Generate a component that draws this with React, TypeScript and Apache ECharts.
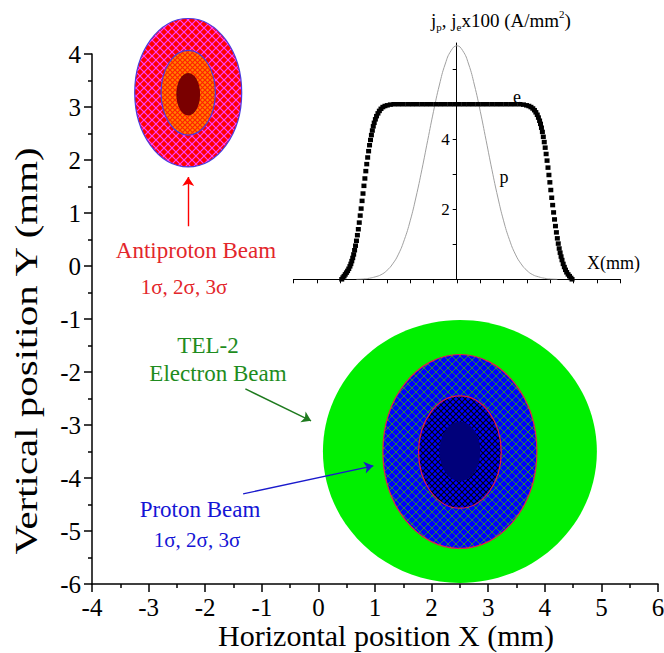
import { useEffect, useRef } from 'react';
import * as echarts from 'echarts';

const FONT = 'Liberation Serif';
const TICK_FONT = 'serif';

// ---- main axes ----
const xMin = -4, xMax = 6;
const yMin = -6, yMax = 4;
const xTickValues = [-4, -3, -2, -1, 0, 1, 2, 3, 4, 5, 6];
const yTickValues = [-6, -5, -4, -3, -2, -1, 0, 1, 2, 3, 4];

// ---- beam ellipses (mm): TEL-2 electron beam, proton 3σ/2σ/1σ, antiproton 3σ/2σ/1σ ----
const beamNames = ['TEL-2 e-beam', 'p 3σ', 'p 2σ', 'p 1σ', 'pbar 3σ', 'pbar 2σ', 'pbar 1σ'];
const beamCx = [2.5, 2.5, 2.5, 2.5, -2.3, -2.3, -2.3];
const beamCy = [-3.5, -3.5, -3.51, -3.5, 3.27, 3.27, 3.24];
const beamRx = [2.42, 1.36, 0.73, 0.36, 0.945, 0.48, 0.21];
const beamRy = [2.48, 1.83, 1.06, 0.56, 1.40, 0.80, 0.40];

// ---- inset: current density profiles ----
const pX = [-4.3, -4, -3.75, -3.5, -3.25, -3, -2.75, -2.5, -2.25, -2, -1.75, -1.5, -1.25, -1, -0.75, -0.5, -0.25, 0,
  0.25, 0.5, 0.75, 1, 1.25, 1.5, 1.75, 2, 2.25, 2.5, 2.75, 3, 3.25, 3.5, 3.75, 4, 4.3];
const pY = [0, 0.01, 0.03, 0.07, 0.13, 0.25, 0.44, 0.72, 1.13, 1.67, 2.35, 3.13, 3.97, 4.8, 5.55, 6.15, 6.53, 6.67,
  6.53, 6.15, 5.55, 4.8, 3.97, 3.13, 2.35, 1.67, 1.13, 0.72, 0.44, 0.25, 0.13, 0.07, 0.03, 0.01, 0];

const eLeft = [
  [-4.93, 0], [-4.88, 0.05], [-4.83, 0.09], [-4.78, 0.14], [-4.73, 0.19], [-4.68, 0.24], [-4.63, 0.3],
  [-4.58, 0.37], [-4.54, 0.44], [-4.5, 0.52], [-4.46, 0.61], [-4.42, 0.71], [-4.38, 0.83], [-4.34, 0.96],
  [-4.3, 1.1], [-4.26, 1.26], [-4.22, 1.43], [-4.18, 1.62], [-4.14, 1.82], [-4.1, 2.02], [-4.06, 2.24],
  [-4.02, 2.45], [-3.98, 2.67], [-3.94, 2.88], [-3.9, 3.09], [-3.86, 3.29], [-3.82, 3.48], [-3.78, 3.66],
  [-3.74, 3.83], [-3.7, 3.98], [-3.66, 4.12], [-3.62, 4.25], [-3.58, 4.37], [-3.54, 4.47], [-3.49, 4.57],
  [-3.44, 4.66], [-3.38, 4.74], [-3.32, 4.81], [-3.25, 4.87], [-3.17, 4.92], [-3.08, 4.95], [-2.98, 4.97],
  [-2.85, 4.99], [-2.7, 5.0],
];
const eTop = [
  [-2.5, 5], [-2.3, 5], [-2.1, 5], [-1.9, 5], [-1.7, 5], [-1.5, 5], [-1.3, 5], [-1.1, 5], [-0.9, 5],
  [-0.7, 5], [-0.5, 5], [-0.3, 5], [-0.1, 5], [0.1, 5], [0.3, 5], [0.5, 5], [0.7, 5], [0.9, 5], [1.1, 5],
  [1.3, 5], [1.5, 5], [1.7, 5], [1.9, 5], [2.1, 5], [2.3, 5], [2.5, 5],
];
const eRight = [
  [2.7, 5.0], [2.85, 4.99], [2.98, 4.97], [3.08, 4.95], [3.17, 4.92], [3.25, 4.88], [3.32, 4.83], [3.38, 4.77],
  [3.44, 4.7], [3.49, 4.62], [3.54, 4.53], [3.58, 4.44], [3.62, 4.33], [3.66, 4.21], [3.7, 4.07], [3.74, 3.92],
  [3.78, 3.76], [3.82, 3.58], [3.86, 3.39], [3.9, 3.19], [3.94, 2.98], [3.98, 2.77], [4.02, 2.55], [4.06, 2.33],
  [4.1, 2.12], [4.14, 1.91], [4.18, 1.71], [4.22, 1.52], [4.26, 1.34], [4.3, 1.17], [4.34, 1.02], [4.38, 0.88],
  [4.42, 0.76], [4.46, 0.65], [4.5, 0.55], [4.55, 0.44], [4.6, 0.35], [4.65, 0.27], [4.7, 0.2], [4.76, 0.14],
  [4.82, 0.09], [4.88, 0.04], [4.93, 0],
];
const insetXMin = -7, insetXMax = 7;
const insetYMax = 6.75;
const insetYTicks = [1, 2, 3, 4, 5, 6];
const insetYLabels = [2, 4];

// ---- annotation arrows (mm) ----
const arrowFrom = [[-2.3, 0.75], [-1.29, -2.32], [-1.33, -4.3]];
const arrowTo = [[-2.3, 1.68], [-0.13, -2.92], [0.97, -3.77]];

function hatch(bg: string, line: string, size: number, lw: number) {
  const c = document.createElement('canvas');
  c.width = size;
  c.height = size;
  const g = c.getContext('2d')!;
  g.fillStyle = bg;
  g.fillRect(0, 0, size, size);
  g.strokeStyle = line;
  g.lineWidth = lw;
  g.beginPath();
  g.moveTo(0, 0);
  g.lineTo(size, size);
  g.moveTo(size, 0);
  g.lineTo(0, size);
  g.stroke();
  return { image: c.toDataURL(), repeat: 'repeat', imageWidth: size, imageHeight: size };
}

export default function App() {
  const ref = useRef<HTMLDivElement>(null);
  useEffect(() => {
    if (!ref.current) return;
    const chart = echarts.init(ref.current, null, { renderer: 'svg' });

    const fills: any[] = [
      '#00f000',
      hatch('#0000ff', '#2a8a3a', 8, 1),
      hatch('#0000ff', '#000010', 6, 1.1),
      '#00007a',
      hatch('#ff0000', '#ff40ff', 8, 1.2),
      hatch('#ff8400', '#ff2000', 5, 1.2),
      '#7a0000',
    ];
    const strokes = [null, '#e0204a', '#e0204a', null, '#4a3adf', '#4a3adf', null];

    const tickRich = { t: { fontFamily: TICK_FONT, fontSize: 25, color: '#000', fontWeight: 'normal' } };

    const axisCommon = {
      type: 'value' as const,
      axisLine: { show: true, onZero: false, lineStyle: { color: '#000', width: 1.5 } },
      axisTick: { show: true, length: 8, lineStyle: { color: '#000', width: 1.5 } },
      minorTick: { show: true, splitNumber: 2, length: 4, lineStyle: { color: '#000', width: 1.5 } },
      splitLine: { show: false },
      minorSplitLine: { show: false },
    };

    const txt = (text: string, x: number, y: number, size: number, color: string, align = 'center', extra: any = {}) => ({
      type: 'text',
      x,
      y,
      silent: true,
      ...extra,
      style: {
        text,
        fill: color,
        fontSize: size,
        fontFamily: FONT,
        lineHeight: Math.round(size * 0.95),
        align,
        verticalAlign: 'middle',
        textAlign: align,
        textVerticalAlign: 'middle',
      },
    });

    const option: any = {
      animation: false,
      backgroundColor: '#fff',
      textStyle: { fontFamily: FONT },
      grid: [
        { left: 92, right: 6, top: 54, bottom: 69, outerBoundsMode: 'none', containLabel: false },
        { left: 293.4, right: 43.6, top: 43, bottom: 373.7, outerBoundsMode: 'none', containLabel: false },
        { left: 456.7, right: 43.6, top: 43, bottom: 373.7, outerBoundsMode: 'none', containLabel: false },
      ],
      xAxis: [
        {
          ...axisCommon,
          gridIndex: 0,
          min: xMin,
          max: xMax,
          interval: 1,
          axisLabel: {
            customValues: xTickValues,
            formatter: '{t|{value}}',
            rich: tickRich,
            color: '#000',
            fontSize: 25,
            fontFamily: TICK_FONT,
            lineHeight: 24,
            margin: 11,
          },
        },
        {
          type: 'value',
          gridIndex: 1,
          min: insetXMin,
          max: insetXMax,
          interval: 1,
          axisLine: { show: true, onZero: false, lineStyle: { color: '#000', width: 1 } },
          axisTick: { show: true, length: 4, lineStyle: { color: '#000', width: 1 } },
          axisLabel: { show: false },
          splitLine: { show: false },
        },
        {
          type: 'value',
          gridIndex: 2,
          min: 0,
          max: insetXMax,
          show: false,
        },
      ],
      yAxis: [
        {
          ...axisCommon,
          gridIndex: 0,
          min: yMin,
          max: yMax,
          interval: 1,
          axisLabel: {
            customValues: yTickValues,
            formatter: '{t|{value}}',
            rich: tickRich,
            color: '#000',
            fontSize: 25,
            fontFamily: TICK_FONT,
            margin: 11,
          },
        },
        {
          type: 'value',
          gridIndex: 1,
          min: 0,
          max: insetYMax,
          show: false,
        },
        {
          type: 'value',
          gridIndex: 2,
          min: 0,
          max: insetYMax,
          interval: 1,
          axisLine: { show: true, onZero: false, lineStyle: { color: '#000', width: 1 } },
          axisTick: { show: true, length: 4, customValues: insetYTicks, lineStyle: { color: '#000', width: 1 } },
          axisLabel: { show: true, customValues: insetYLabels, color: '#000', fontSize: 17, fontFamily: FONT, margin: 7 },
          splitLine: { show: false },
        },
      ],
      series: [
        {
          type: 'custom',
          name: 'beams',
          coordinateSystem: 'cartesian2d',
          xAxisIndex: 0,
          yAxisIndex: 0,
          clip: false,
          silent: true,
          z: 2,
          data: beamCx.map((cx, i) => ({ name: beamNames[i], value: [cx, beamCy[i], beamRx[i], beamRy[i], i] })),
          renderItem: (_p: any, api: any) => {
            const i = api.value(4);
            const c = api.coord([api.value(0), api.value(1)]);
            const s = api.size([api.value(2), api.value(3)]);
            return {
              type: 'ellipse',
              shape: { cx: c[0], cy: c[1], rx: s[0], ry: s[1] },
              style: {
                fill: fills[i],
                stroke: strokes[i] || 'none',
                lineWidth: strokes[i] ? 1.2 : 0,
              },
            };
          },
        },
        {
          type: 'lines',
          coordinateSystem: 'cartesian2d',
          xAxisIndex: 0,
          yAxisIndex: 0,
          silent: true,
          z: 5,
          symbol: ['none', 'arrow'],
          symbolSize: [0, 9],
          lineStyle: { width: 1.4, opacity: 1, curveness: 0 },
          data: arrowFrom.map((f, i) => ({
            coords: [f, arrowTo[i]],
            lineStyle: { color: ['#ff0000', '#1e7a1e', '#1a1acc'][i] },
          })),
        },
        {
          type: 'line',
          name: 'p',
          xAxisIndex: 1,
          yAxisIndex: 1,
          smooth: true,
          showSymbol: false,
          silent: true,
          z: 3,
          lineStyle: { color: '#a0a0a0', width: 1 },
          data: pX.map((x, i) => [x, pY[i]]),
        },
        {
          type: 'scatter',
          name: 'e',
          xAxisIndex: 1,
          yAxisIndex: 1,
          symbol: 'rect',
          symbolSize: [5, 4.5],
          silent: true,
          z: 4,
          itemStyle: { color: '#000', opacity: 1 },
          data: [...eLeft, ...eTop, ...eRight],
        },
      ],
      graphic: [
        txt('Vertical position Y (mm)', 27, 351, 31, '#000', 'center', { rotation: Math.PI / 2, scaleX: 1.32 }),
        txt('Horizontal position X (mm)', 386, 635, 30, '#000'),
        txt('Antiproton Beam', 196, 250, 23, '#e3262b'),
        txt('1σ, 2σ, 3σ', 184, 287, 21, '#e3262b'),
        txt('TEL-2', 208, 345, 23, '#1e8c1e'),
        txt('Electron Beam', 218, 373, 23, '#1e8c1e'),
        txt('Proton Beam', 200, 509, 23, '#1515d5'),
        txt('1σ, 2σ, 3σ', 197, 540, 21, '#1515d5'),
        txt('X(mm)', 587, 263, 18, '#000', 'left'),
        txt('e', 517, 97, 18, '#000'),
        txt('p', 504, 177, 18, '#000'),
        {
          type: 'text',
          x: 431,
          y: 20,
          silent: true,
          style: {
            text: '{a|j}{s|p}{a|, j}{s|e}{a|x100 (A/mm}{u|2}{a|)}',
            align: 'left',
            verticalAlign: 'middle',
            textAlign: 'left',
            textVerticalAlign: 'middle',
            fill: '#000',
            rich: {
              a: { fontSize: 19, fontFamily: FONT, color: '#000' },
              s: { fontSize: 11, fontFamily: FONT, color: '#000', padding: [13, 0, 0, 0] },
              u: { fontSize: 11, fontFamily: FONT, color: '#000', padding: [0, 0, 13, 0] },
            },
          },
        },
      ],
    };
    chart.setOption(option);
    return () => chart.dispose();
  }, []);
  return <div ref={ref} style={{ width: 664, height: 653, position: 'absolute', left: 0, top: 0 }} />;
}
